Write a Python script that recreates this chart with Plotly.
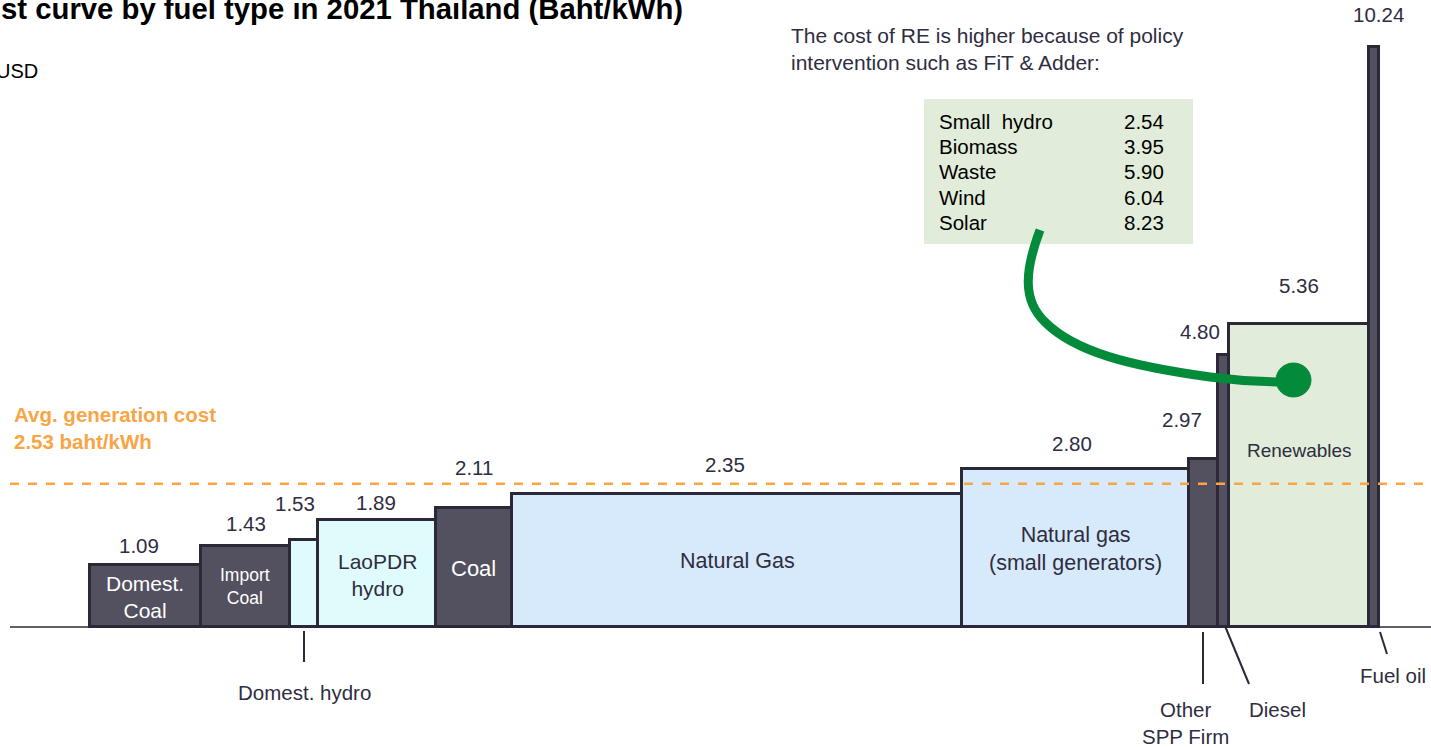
import plotly.graph_objects as go

W, H = 1431, 747

# cost curve data (share of generation in %, cost in Baht/kWh)
fuels = ['Domest. Coal', 'Import Coal', 'Domest. hydro', 'LaoPDR hydro', 'Coal',
         'Natural Gas', 'Natural gas (small generators)', 'Other SPP Firm',
         'Diesel', 'Renewables', 'Fuel oil']
share = [8.6, 6.9, 2.2, 9.1, 5.9, 34.9, 17.6, 2.2, 0.9, 10.8, 0.8]
cost = [1.09, 1.43, 1.53, 1.89, 2.11, 2.35, 2.80, 2.97, 4.80, 5.36, 10.24]
avg_cost = 2.53

re_names = ['Small  hydro', 'Biomass', 'Waste', 'Wind', 'Solar']
re_costs = [2.54, 3.95, 5.90, 6.04, 8.23]

DARK = '#535060'
EDGE = '#2b2838'
BLUE = '#d7eafc'
CYAN = '#e0fbfc'
GREEN = '#e1ecda'
ORANGE = '#f7a545'
TXT = '#2f2d3f'
FONT = 'Liberation Sans, Arial, sans-serif'

fills = [DARK, DARK, CYAN, CYAN, DARK, BLUE, BLUE, DARK, DARK, GREEN, DARK]

# bar centres from cumulative share
lefts, acc = [], 0.0
for s in share:
    lefts.append(acc)
    acc += s
centers = [l + s / 2 for l, s in zip(lefts, share)]

# pixel helpers for decorations
x0_px, unit_px = 90, 1289 / sum(share)
base_px, yscale = 627, 56.6
xr = [-x0_px / unit_px, (W - x0_px) / unit_px]
yr = [-(H - base_px) / yscale, base_px / yscale]


def px(x):
    return x / W


def py(y):
    return 1 - y / H


fig = go.Figure()
fig.add_trace(go.Bar(
    x=centers, y=cost, width=share, base=0,
    marker=dict(color=fills, line=dict(color=EDGE, width=3)),
    showlegend=False, hoverinfo='skip',
))

# average cost line
fig.add_shape(type='line', xref='paper', yref='y', x0=px(10), x1=1,
              y0=avg_cost, y1=avg_cost,
              line=dict(color=ORANGE, width=2.5, dash='dash'))
# baseline
fig.add_shape(type='line', xref='paper', yref='y', x0=px(10), x1=1, y0=0, y1=0,
              line=dict(color=EDGE, width=1.5))

ann = []
# value labels above the bars
val_dx = [-6, 1, -9, -1, 0, -12, -4, -22, -24, 0, 5]
val_dy = [20, 23, 37, 18, 40, 29, 25, 39, 24, 38, 33]
for c, v, dx, dy in zip(centers, cost, val_dx, val_dy):
    ann.append(dict(x=c, y=v, text=f'{v:.2f}', showarrow=False,
                    xshift=dx, yshift=dy, yanchor='middle',
                    font=dict(size=20.5, color=TXT)))

# labels inside bars
inside = [
    (0, 'Domest.<br>Coal', 597, 21, 'white'),
    (1, 'Import<br>Coal', 586, 17.5, 'white'),
    (3, 'LaoPDR<br>hydro', 575, 21, TXT),
    (4, 'Coal', 568, 22, 'white'),
    (5, 'Natural Gas', 561, 21.5, TXT),
    (6, 'Natural gas<br>(small generators)', 549, 21.5, TXT),
    (9, 'Renewables', 451, 19, TXT),
]
for i, t, ypx, sz, col in inside:
    ann.append(dict(x=centers[i], xref='x', y=py(ypx), yref='paper', text=t,
                    showarrow=False, yanchor='middle',
                    font=dict(size=sz, color=col)))

# callout labels below the axis
below = [
    ('Domest. hydro', 304, 692),
    ('Other<br>SPP Firm', 1185, 723),
    ('Diesel', 1277, 709),
    ('Fuel oil', 1393, 675),
]
for t, xp, ypx in below:
    ann.append(dict(x=px(xp), y=py(ypx), xref='paper', yref='paper', text=t,
                    showarrow=False, xanchor='center', yanchor='middle',
                    font=dict(size=20.5, color=TXT)))
leaders = [(304, 631, 304, 662), (1203, 632, 1203, 684),
           (1225, 626, 1249, 684), (1380, 632, 1387, 654)]
for a, b, c, d in leaders:
    fig.add_shape(type='line', xref='paper', yref='paper',
                  x0=px(a), y0=py(b), x1=px(c), y1=py(d),
                  line=dict(color=EDGE, width=2))

# average cost text
ann.append(dict(x=px(12), y=py(428), xref='paper', yref='paper',
                text='<b>Avg. generation cost<br>2.53 baht/kWh</b>',
                showarrow=False, xanchor='left', yanchor='middle', align='left',
                font=dict(size=20.5, color=ORANGE)))

# title (cut at the page edge) and unit
ann.append(dict(x=px(-1), y=py(8), xref='paper', yref='paper',
                text='<b>st curve by fuel type in 2021 Thailand (Baht/kWh)</b>',
                showarrow=False, xanchor='left', yanchor='middle',
                font=dict(size=29.3, color='black')))
ann.append(dict(x=px(-6), y=py(71), xref='paper', yref='paper', text='USD',
                showarrow=False, xanchor='left', yanchor='middle',
                font=dict(size=20, color='black')))

# RE note
ann.append(dict(x=px(789), y=py(49), xref='paper', yref='paper',
                text='The cost of RE is higher because of policy<br>intervention such as FiT & Adder:',
                showarrow=False, xanchor='left', yanchor='middle', align='left',
                font=dict(size=21, color=TXT)))
fig.add_shape(type='rect', xref='paper', yref='paper',
              x0=px(924), x1=px(1193), y0=py(99), y1=py(244),
              fillcolor=GREEN, line=dict(width=0), layer='below')
for k, (n, v) in enumerate(zip(re_names, re_costs)):
    yk = 121 + k * 25.5
    ann.append(dict(x=px(937), y=py(yk), xref='paper', yref='paper', text=n,
                    showarrow=False, xanchor='left', yanchor='middle',
                    font=dict(size=20.5, color='black')))
    ann.append(dict(x=px(1166), y=py(yk), xref='paper', yref='paper', text=f'{v:.2f}',
                    showarrow=False, xanchor='right', yanchor='middle',
                    font=dict(size=20.5, color='black')))

# green hand-drawn pointer
pts = [(1040, 230), (1025, 270), (1022, 300), (1045, 322),
       (1075, 352), (1130, 366), (1210, 377),
       (1240, 381), (1265, 382), (1285, 382)]
p = [(px(a), py(b)) for a, b in pts]
path = 'M {:.5f},{:.5f} C {:.5f},{:.5f} {:.5f},{:.5f} {:.5f},{:.5f} ' \
       'C {:.5f},{:.5f} {:.5f},{:.5f} {:.5f},{:.5f} ' \
       'C {:.5f},{:.5f} {:.5f},{:.5f} {:.5f},{:.5f}'.format(*[c for q in p for c in q])
fig.add_shape(type='path', xref='paper', yref='paper', path=path,
              line=dict(color='#038a3a', width=9))
fig.add_shape(type='circle', xref='paper', yref='paper',
              x0=px(1276), x1=px(1311), y0=py(363), y1=py(397),
              fillcolor='#038a3a', line=dict(color='#038a3a', width=1))

fig.update_layout(
    width=W, height=H,
    margin=dict(l=0, r=0, t=0, b=0),
    paper_bgcolor='white', plot_bgcolor='white',
    font=dict(family=FONT),
    annotations=ann,
    bargap=0,
    xaxis=dict(range=xr, visible=False, fixedrange=True),
    yaxis=dict(range=yr, visible=False, fixedrange=True),
)

# drop the default page margin so the figure sits at the window corner
fig.write_html('out.html', config={'displayModeBar': False},
               post_script="document.body.style.margin='0';")
